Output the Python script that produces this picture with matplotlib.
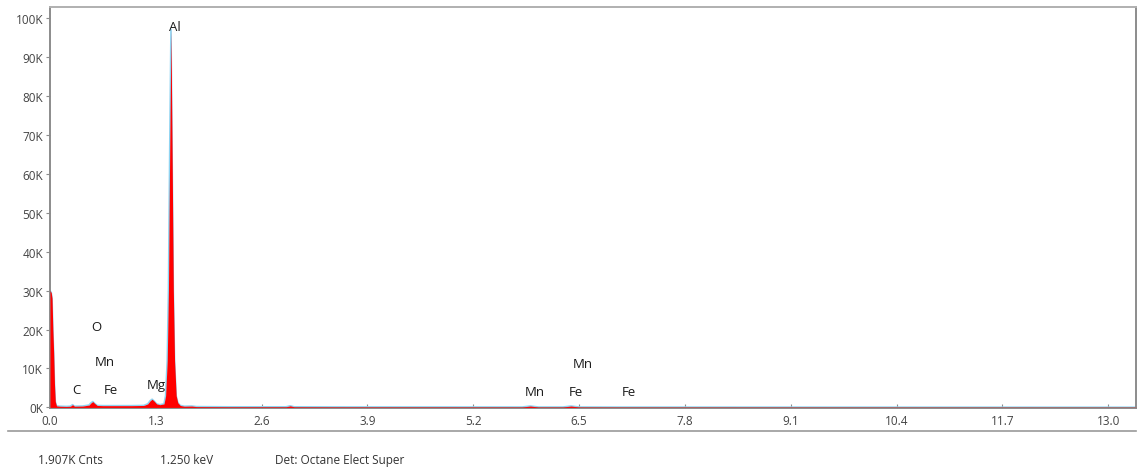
import matplotlib
matplotlib.use("Agg")
import matplotlib.pyplot as plt
from matplotlib.lines import Line2D

plt.rcParams['font.family'] = ['Open Sans', 'DejaVu Sans']

# EDS spectrum samples: energy (keV) and counts
energy = [0.00, 0.015, 0.025, 0.035, 0.045, 0.055, 0.065, 0.08, 0.12, 0.20, 0.25, 0.277, 0.30,
          0.40, 0.48, 0.50, 0.525, 0.55, 0.58, 0.65, 0.80, 1.00, 1.15, 1.20, 1.23, 1.254,
          1.28, 1.31, 1.35, 1.40, 1.42, 1.44, 1.455, 1.47, 1.486, 1.50, 1.515, 1.53, 1.55,
          1.57, 1.60, 1.65, 1.74, 1.80, 2.20, 2.90, 2.95, 3.00, 3.50, 5.80, 5.90, 6.00,
          6.30, 6.40, 6.50, 7.00, 13.34]
counts = [30000, 29500, 28000, 20000, 14000, 6000, 1500, 400, 300, 250, 300, 700, 300,
          350, 600, 1100, 1500, 1000, 500, 450, 450, 450, 500, 900, 1700, 2100,
          1600, 900, 700, 900, 3000, 12000, 30000, 65000, 97000, 65000, 30000, 12000, 3000,
          1200, 500, 300, 350, 200, 150, 150, 400, 150, 120, 100, 350, 100,
          100, 350, 100, 80, 40]

x_ticks = [0.0, 1.3, 2.6, 3.9, 5.2, 6.5, 7.8, 9.1, 10.4, 11.7, 13.0]
y_ticks = [0, 10000, 20000, 30000, 40000, 50000, 60000, 70000, 80000, 90000, 100000]
y_labels = ['0K', '10K', '20K', '30K', '40K', '50K', '60K', '70K', '80K', '90K', '100K']

# Element line markers: symbol, energy position, label height
elements = ['Al', 'O', 'Mn', 'Fe', 'C', 'Mg', 'Mn', 'Fe', 'Mn', 'Fe']
elem_x = [1.536, 0.565, 0.676, 0.749, 0.319, 1.302, 5.958, 6.462, 6.548, 7.113]
elem_y = [97900, 20700, 11700, 4500, 4700, 6000, 4200, 4200, 11200, 4200]

status_texts = ['1.907K Cnts', '1.250 keV', 'Det: Octane Elect Super']
status_x = [38, 160, 275]

W, H = 1139, 477
fig = plt.figure(figsize=(W / 100, H / 100), dpi=100)
ax = fig.add_axes([50 / W, (H - 409) / H, (1136 - 50) / W, (409 - 8) / H])

# outline sits beneath the fill so it only shows at the baseline and peak tips
ax.plot(energy, counts, color='#8fd4f2', linewidth=1.2, zorder=2)
ax.fill_between(energy, counts, 0, color='#ff0000', linewidth=0, zorder=3)

ax.set_xlim(0, 13.34)
ax.set_ylim(-150, 102800)
ax.set_xticks(x_ticks)
ax.set_xticklabels([f'{v:.1f}' for v in x_ticks])
ax.set_yticks(y_ticks)
ax.set_yticklabels(y_labels)

for s in ax.spines.values():
    s.set_color('#8c8c8c')
    s.set_linewidth(1.4)
ax.spines['top'].set_color('#b0b0b0')
ax.tick_params(axis='both', colors='#8c8c8c', labelcolor='#444444', labelsize=8.5,
               length=3, width=0.8, pad=2)
ax.tick_params(axis='x', direction='in', pad=4)

for sym, ex, ey in zip(elements, elem_x, elem_y):
    ax.text(ex, ey, sym, ha='center', va='center', fontsize=9.5, color='#1a1a1a', zorder=4)

# Separator line and status bar
fig.add_artist(Line2D([8 / W, 1136 / W], [(H - 432) / H] * 2, color='#9a9a9a', linewidth=1.2))
for t, px in zip(status_texts, status_x):
    fig.text(px / W, (H - 461) / H, t, ha='left', va='center', fontsize=8.5, color='#333333')

fig.savefig('out.png', dpi=100)
